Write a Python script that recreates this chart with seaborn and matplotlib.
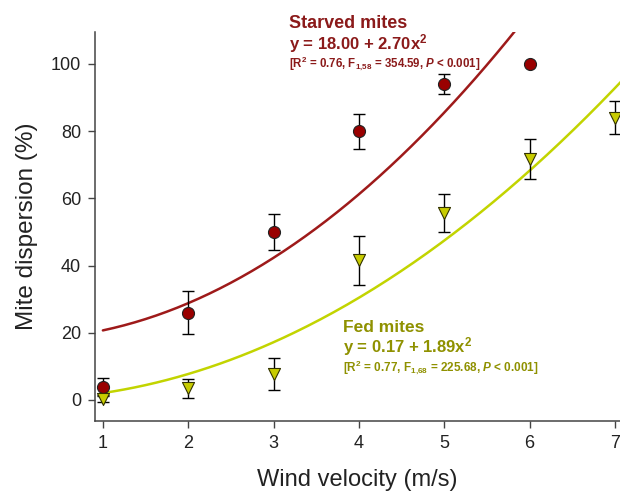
import numpy as np
import pandas as pd
import matplotlib
matplotlib.use("Agg")
import matplotlib.pyplot as plt
import seaborn as sns

# ---- data ----
wind = [1, 2, 3, 4, 5, 6]
starved_mean = [4, 26, 50, 80, 94, 100]
starved_err = [2.6, 6.5, 5.3, 5.2, 3.1, 0]
fed_wind = [1, 2, 3, 4, 5, 6, 7]
fed_mean = [0.3, 3.5, 7.7, 41.5, 55.7, 71.7, 84]
fed_err = [1.0, 2.8, 4.8, 7.3, 5.7, 6.0, 5.0]
# fitted models shown on the chart: y = a + b x^2
starved_fit = (18.00, 2.70)
fed_fit = (0.17, 1.89)

x_ticks = [1, 2, 3, 4, 5, 6, 7]
y_ticks = [0, 20, 40, 60, 80, 100]

RED_LINE = "#9e1a1a"
RED_FILL = "#990000"
RED_TEXT = "#8b1a1a"
YEL_LINE = "#c2d400"
YEL_FILL = "#c8cc00"
YEL_TEXT = "#8f9100"

sns.set_style("white")
plt.rcParams["font.family"] = ["Liberation Sans", "DejaVu Sans"]
plt.rcParams["mathtext.fontset"] = "custom"
plt.rcParams["mathtext.rm"] = "Liberation Sans:bold"
plt.rcParams["mathtext.bf"] = "Liberation Sans:bold"
plt.rcParams["mathtext.it"] = "Liberation Sans:bold:italic"
plt.rcParams["mathtext.sf"] = "Liberation Sans:bold"

fig = plt.figure(figsize=(6.2, 4.91), dpi=100)
ax = fig.add_axes([0.153, 0.1426, 0.847, 0.7924])

xs = np.linspace(1, 7.2, 200)
curves = pd.DataFrame({
    "x": np.concatenate([xs, xs]),
    "y": np.concatenate([starved_fit[0] + starved_fit[1] * xs ** 2,
                         fed_fit[0] + fed_fit[1] * xs ** 2]),
    "group": ["Starved"] * len(xs) + ["Fed"] * len(xs),
})
sns.lineplot(data=curves, x="x", y="y", hue="group",
             palette={"Starved": RED_LINE, "Fed": YEL_LINE},
             linewidth=1.8, legend=False, ax=ax, zorder=2)

ax.errorbar(wind, starved_mean, yerr=starved_err, fmt="none", ecolor="black",
            elinewidth=1.0, capsize=4, capthick=1.0, zorder=3)
ax.errorbar(fed_wind, fed_mean, yerr=fed_err, fmt="none", ecolor="black",
            elinewidth=1.0, capsize=4, capthick=1.0, zorder=3)

pts_s = pd.DataFrame({"x": wind, "y": starved_mean})
pts_f = pd.DataFrame({"x": fed_wind, "y": fed_mean})
sns.scatterplot(data=pts_s, x="x", y="y", marker="o", s=75, color=RED_FILL,
                edgecolor="#222222", linewidth=0.8, ax=ax, zorder=4)
sns.scatterplot(data=pts_f, x="x", y="y", marker="v", s=75, color=YEL_FILL,
                edgecolor="#333300", linewidth=0.8, ax=ax, zorder=4)

ax.set_xlim(0.906, 7.06)
ax.set_ylim(-6.25, 109.5)
ax.set_xticks(x_ticks)
ax.set_yticks(y_ticks)
ax.tick_params(axis="both", direction="out", length=5, width=1, color="#444444",
               labelsize=13, labelcolor="#222222", pad=5, left=True, bottom=True)
for side in ["top", "right"]:
    ax.spines[side].set_visible(False)
for side in ["left", "bottom"]:
    ax.spines[side].set_color("#444444")
    ax.spines[side].set_linewidth(1.1)

ax.set_xlabel("Wind velocity (m/s)", fontsize=17, labelpad=12, color="#222222")
ax.set_ylabel("Mite dispersion (%)", fontsize=17.5, labelpad=9, color="#222222")

# annotations (figure pixel coords -> fraction)
def fy(px):
    return 1 - px / 491

def fx(px):
    return px / 620

fig.text(fx(289), fy(23), "Starved mites", color=RED_TEXT, fontsize=13,
         fontweight="bold", va="center", ha="left")
fig.text(fx(289), fy(44), r"y = 18.00 + 2.70x$^{2}$", color=RED_TEXT, fontsize=12,
         fontweight="bold", va="center", ha="left")
fig.text(fx(289), fy(64),
         r"[R$^{2}$ = 0.76, F$_{1{,}58}$ = 354.59, $P$ < 0.001]",
         color=RED_TEXT, fontsize=8.3, fontweight="bold", va="center", ha="left")

fig.text(fx(343), fy(328), "Fed mites", color=YEL_TEXT, fontsize=12.5,
         fontweight="bold", va="center", ha="left")
fig.text(fx(343), fy(347), r"y = 0.17 + 1.89x$^{2}$", color=YEL_TEXT, fontsize=12,
         fontweight="bold", va="center", ha="left")
fig.text(fx(343), fy(368),
         r"[R$^{2}$ = 0.77, F$_{1{,}68}$ = 225.68, $P$ < 0.001]",
         color=YEL_TEXT, fontsize=8.5, fontweight="bold", va="center", ha="left")

fig.savefig("out.png", dpi=100)
